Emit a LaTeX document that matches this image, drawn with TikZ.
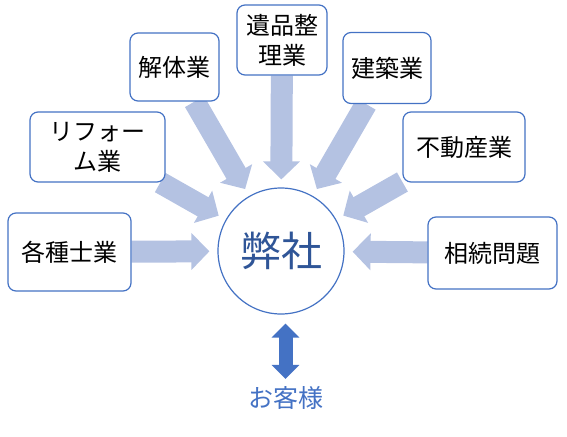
\documentclass[tikz,border=0pt]{standalone}
\usepackage{fontspec}
\setmainfont{Noto Sans CJK JP}
\usepackage{tikz}
\usetikzlibrary{arrows.meta}
\definecolor{boxblue}{RGB}{68,114,196}
\definecolor{arrblue}{RGB}{180,194,226}
\definecolor{darkblue}{RGB}{47,85,151}
\pgfdeclarelayer{bg}
\pgfsetlayers{bg,main}

\begin{document}
\begin{tikzpicture}[x=1pt,y=-1pt,
    biz/.style={draw=boxblue,line width=1.2pt,fill=white,rounded corners=8pt,align=center,font=\fontsize{24}{30}\selectfont,inner sep=0pt},
    hub/.style={circle,draw=boxblue,line width=1.2pt,fill=white,minimum size=126pt,text=darkblue,font=\fontsize{41}{41}\selectfont},
    blk/.style={arrblue,line width=22pt,-{Triangle[length=18pt,width=36pt]},shorten >=8pt},
    dbl/.style={boxblue,line width=14pt,{Triangle[length=14pt,width=27pt]}-{Triangle[length=14pt,width=27pt]}}
]
\useasboundingbox (0,0) rectangle (567,436);
\node[hub] (hei) at (281,251) {弊社};
\node[biz,minimum width=123pt,minimum height=78pt] (kaku) at (69.5,252) {各種士業};
\node[biz,minimum width=135pt,minimum height=70pt] (rif) at (97.5,147) {リフォー\\ム業};
\node[biz,minimum width=89pt,minimum height=68pt] (kai) at (174.5,67) {解体業};
\node[biz,minimum width=90pt,minimum height=70pt] (ihin) at (282,40) {遺品整\\理業};
\node[biz,minimum width=88pt,minimum height=71pt] (ken) at (387,68) {建築業};
\node[biz,minimum width=122pt,minimum height=70pt] (fudo) at (464,147) {不動産業};
\node[biz,minimum width=129pt,minimum height=72pt] (sozo) at (492.5,253) {相続問題};
\node[text=boxblue,font=\fontsize{25}{30}\selectfont] (kyaku) at (285.5,398) {お客様};

\begin{pgfonlayer}{bg}
\draw[blk] (kaku) -- (hei);
\draw[blk] (rif) -- (hei);
\draw[blk] (kai) -- (hei);
\draw[blk] (ihin) -- (hei);
\draw[blk] (ken) -- (hei);
\draw[blk] (fudo) -- (hei);
\draw[blk] (sozo) -- (hei);
\end{pgfonlayer}
\draw[dbl,shorten <=9pt,shorten >=4pt] (kyaku.north |- hei.south) -- (kyaku.north);
\end{tikzpicture}
\end{document}
